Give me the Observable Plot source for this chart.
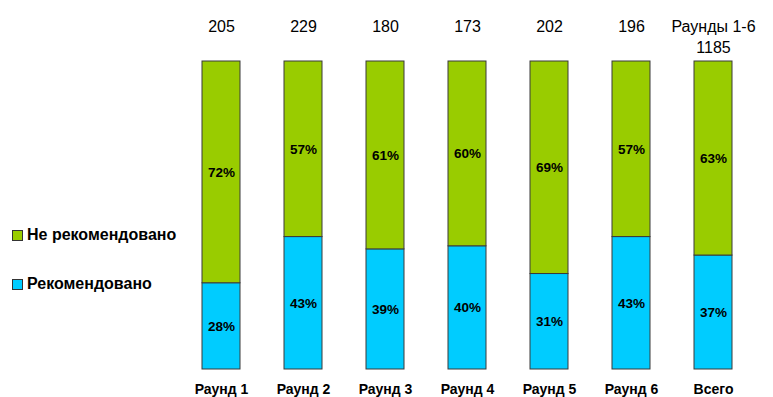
<!DOCTYPE html>
<html>
<head>
<meta charset="utf-8">
<script src="https://cdn.jsdelivr.net/npm/d3@7"></script>
<script src="https://cdn.jsdelivr.net/npm/@observablehq/plot@0.6"></script>
<style>
  html, body { margin: 0; padding: 0; background: #fff; }
  #wrap { position: relative; width: 773px; height: 397px; font-family: "Liberation Sans", Arial, sans-serif; }
  .leg { position: absolute; left: 12px; display: flex; align-items: center; font-weight: bold; font-size: 16px; color: #000; }
  .sw { width: 9px; height: 9px; border: 1px solid #333; margin-right: 4px; }
</style>
</head>
<body>
<div id="wrap"></div>
<script>
const categories = ["Раунд 1", "Раунд 2", "Раунд 3", "Раунд 4", "Раунд 5", "Раунд 6", "Всего"];
const topLabels = ["205", "229", "180", "173", "202", "196", "Раунды 1-6\n1185"];
const recommended = [28, 43, 39, 40, 31, 43, 37];
const notRecommended = [72, 57, 61, 60, 69, 57, 63];
const seriesNames = ["Рекомендовано", "Не рекомендовано"];
const seriesColors = ["#00CCFF", "#99CC00"];

const rows = [];
categories.forEach((c, i) => {
  rows.push({cat: c, series: seriesNames[0], value: recommended[i]});
  rows.push({cat: c, series: seriesNames[1], value: notRecommended[i]});
});
const labels = categories.map((c, i) => ({cat: c, top: topLabels[i]}));

const chart = Plot.plot({
  width: 773,
  height: 397,
  marginLeft: 161,
  marginRight: 0,
  marginTop: 61,
  marginBottom: 28,
  style: {fontFamily: "Liberation Sans, Arial, sans-serif", background: "#fff"},
  x: {domain: categories, paddingInner: 0.537, paddingOuter: 0.5, axis: null},
  y: {domain: [0, 100], axis: null},
  color: {domain: seriesNames, range: seriesColors},
  marks: [
    Plot.barY(rows, Plot.stackY({x: "cat", y: "value", z: "series", fill: "series", stroke: "#3a3a3a", strokeWidth: 1, order: seriesNames})),
    Plot.text(rows, Plot.stackY({x: "cat", y: "value", z: "series", order: seriesNames, text: d => d.value + "%", fontWeight: "bold", fontSize: 13.5, fill: "#000"})),
    Plot.text(labels, {x: "cat", y: 100, text: "top", lineAnchor: "top", dy: -45, fontSize: 16, lineHeight: 1.35, fill: "#000"}),
    Plot.text(labels, {x: "cat", y: 0, text: "cat", dy: 20, fontSize: 14, fontWeight: "bold", fill: "#000"})
  ]
});
const wrap = document.getElementById("wrap");
chart.style.position = "absolute";
chart.style.left = "0";
chart.style.top = "0";
wrap.appendChild(chart);

const legendY = [284, 235];
seriesNames.forEach((s, i) => {
  const d = document.createElement("div");
  d.className = "leg";
  d.style.top = (legendY[i] - 9) + "px";
  d.style.height = "18px";
  const sw = document.createElement("div");
  sw.className = "sw";
  sw.style.background = seriesColors[i];
  d.appendChild(sw);
  d.appendChild(document.createTextNode(s));
  wrap.appendChild(d);
});
</script>
</body>
</html>
